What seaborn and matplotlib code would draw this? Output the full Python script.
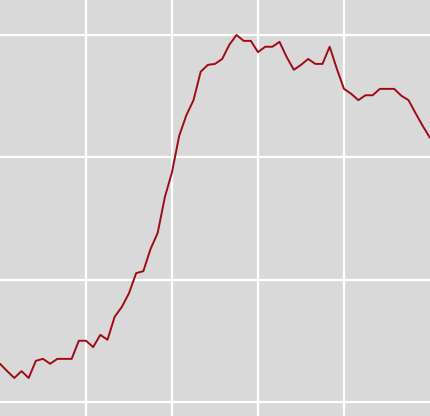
import numpy as np
import pandas as pd
import matplotlib
matplotlib.use("Agg")
import matplotlib.pyplot as plt
import seaborn as sns

# values, one per step
steps = list(range(61))
values = [32.9, 31.4, 30.0, 31.4, 30.0, 33.5, 33.9, 32.9, 33.9, 33.9,
          33.9, 37.6, 37.6, 36.3, 38.8, 37.8, 42.5, 44.5, 47.3, 51.4,
          51.8, 56.3, 59.6, 66.9, 72.0, 79.4, 83.6, 86.7, 92.5, 93.9,
          94.1, 95.1, 98.0, 100.0, 98.8, 98.8, 96.5, 97.6, 97.6, 98.6,
          95.5, 92.9, 93.9, 95.1, 94.1, 94.1, 97.6, 93.1, 89.0, 88.0,
          86.7, 87.7, 87.7, 89.0, 89.0, 89.0, 87.6, 86.7, 84.0, 81.4,
          79.0]
xticks = [12, 24, 36, 48]
yticks = [25, 50, 75, 100]

df = pd.DataFrame({"step": steps, "value": values})

sns.set_style("darkgrid", {"axes.facecolor": "#d9d9d9", "grid.color": "white"})

fig = plt.figure(figsize=(4.30, 4.16), dpi=100)
ax = fig.add_axes([0, 0, 1, 1])
sns.lineplot(data=df, x="step", y="value", color="#a00a14", linewidth=1.4, ax=ax)
ax.set_xlim(0, 60)
ax.set_ylim(22.24, 107.14)
ax.set_xticks(xticks)
ax.set_yticks(yticks)
ax.grid(True, color="white", linewidth=1.6)
ax.tick_params(length=0, labelbottom=False, labelleft=False)
ax.set_xlabel("")
ax.set_ylabel("")
for s in ax.spines.values():
    s.set_visible(False)
fig.savefig("out.png", dpi=100)
